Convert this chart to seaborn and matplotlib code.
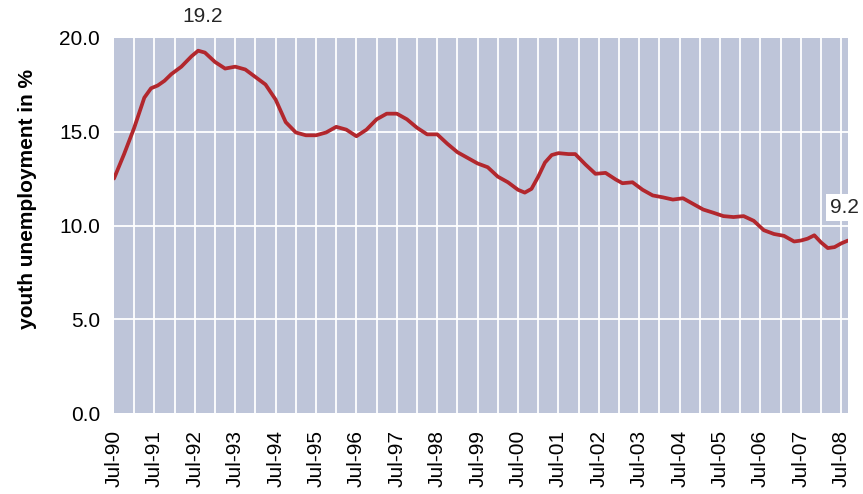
import numpy as np
import pandas as pd
import matplotlib
matplotlib.use("Agg")
import matplotlib.pyplot as plt
from matplotlib.ticker import MultipleLocator, FormatStrFormatter
import seaborn as sns

# months since Jul-90 and the youth unemployment rate
months = [0, 3, 6, 9, 11, 13, 15, 17, 20, 23, 25, 27, 30, 33, 36, 39, 42, 45,
          48, 51, 54, 57, 60, 63, 66, 69, 72, 75, 78, 81, 84, 87, 90, 93, 96,
          99, 102, 105, 108, 111, 114, 117, 120, 122, 124, 126, 128, 130, 132,
          135, 137, 140, 143, 146, 149, 151, 154, 157, 160, 163, 166, 169, 172,
          175, 178, 181, 184, 187, 190, 193, 196, 199, 202, 204, 206, 208, 210,
          212, 214, 216, 218]
rate = [12.5, 13.8, 15.2, 16.8, 17.3, 17.45, 17.7, 18.05, 18.45, 19.0, 19.3,
        19.2, 18.7, 18.35, 18.45, 18.3, 17.9, 17.5, 16.7, 15.5, 14.95, 14.8,
        14.8, 14.95, 15.25, 15.1, 14.75, 15.1, 15.65, 15.95, 15.95, 15.65,
        15.2, 14.85, 14.85, 14.35, 13.9, 13.6, 13.3, 13.1, 12.6, 12.3, 11.9,
        11.75, 11.95, 12.6, 13.35, 13.75, 13.85, 13.8, 13.8, 13.25, 12.75,
        12.8, 12.45, 12.25, 12.3, 11.9, 11.6, 11.5, 11.38, 11.45, 11.15, 10.85,
        10.68, 10.5, 10.45, 10.5, 10.25, 9.75, 9.55, 9.45, 9.15, 9.2, 9.3,
        9.48, 9.1, 8.8, 8.85, 9.05, 9.2]
tick_months = list(range(0, 217, 12))
tick_labels = [f"Jul-{(90 + i) % 100:02d}" for i in range(len(tick_months))]

df = pd.DataFrame({"month": months, "rate": rate})

sns.set_theme(style="white", rc={"axes.facecolor": "#BEC5D9"})
plt.rcParams['font.family'] = ['Liberation Sans', 'DejaVu Sans']

fig = plt.figure(figsize=(8.63, 4.94), dpi=100)
ax = fig.add_axes([0.1321, 0.163, 0.8505, 0.761])

# white half-year and 5-point gridlines
for m in range(6, 218, 6):
    ax.axvline(m, color="white", lw=1.3, zorder=1)
for v in (5, 10, 15):
    ax.axhline(v, color="white", lw=1.3, zorder=1)

sns.lineplot(data=df, x="month", y="rate", ax=ax, color="#B2272D", lw=2.7, zorder=3)

ax.set_xlim(0, 218)
ax.set_ylim(0, 20)
ax.yaxis.set_major_locator(MultipleLocator(5))
ax.yaxis.set_major_formatter(FormatStrFormatter("%.1f"))
ax.set_xticks(tick_months)
ax.set_xticklabels(tick_labels, rotation=90)
ax.tick_params(axis="x", length=0, pad=12, labelsize=15, colors="black")
ax.tick_params(axis="y", length=0, pad=10, labelsize=15, colors="black")
for s in ax.spines.values():
    s.set_visible(False)

ax.set_xlabel("")
ax.set_ylabel("youth unemployment in %", fontsize=15, fontweight="bold", color="black")
ax.yaxis.set_label_coords(-0.105, 0.571)

ax.text(26.4, 21.1, "19.2", ha="center", va="center", fontsize=15, clip_on=False)
ax.text(217, 10.96, "9.2", ha="center", va="center", fontsize=15, clip_on=False, zorder=4,
        bbox=dict(facecolor="white", edgecolor="none", pad=3))

fig.savefig("out.png", dpi=100)
